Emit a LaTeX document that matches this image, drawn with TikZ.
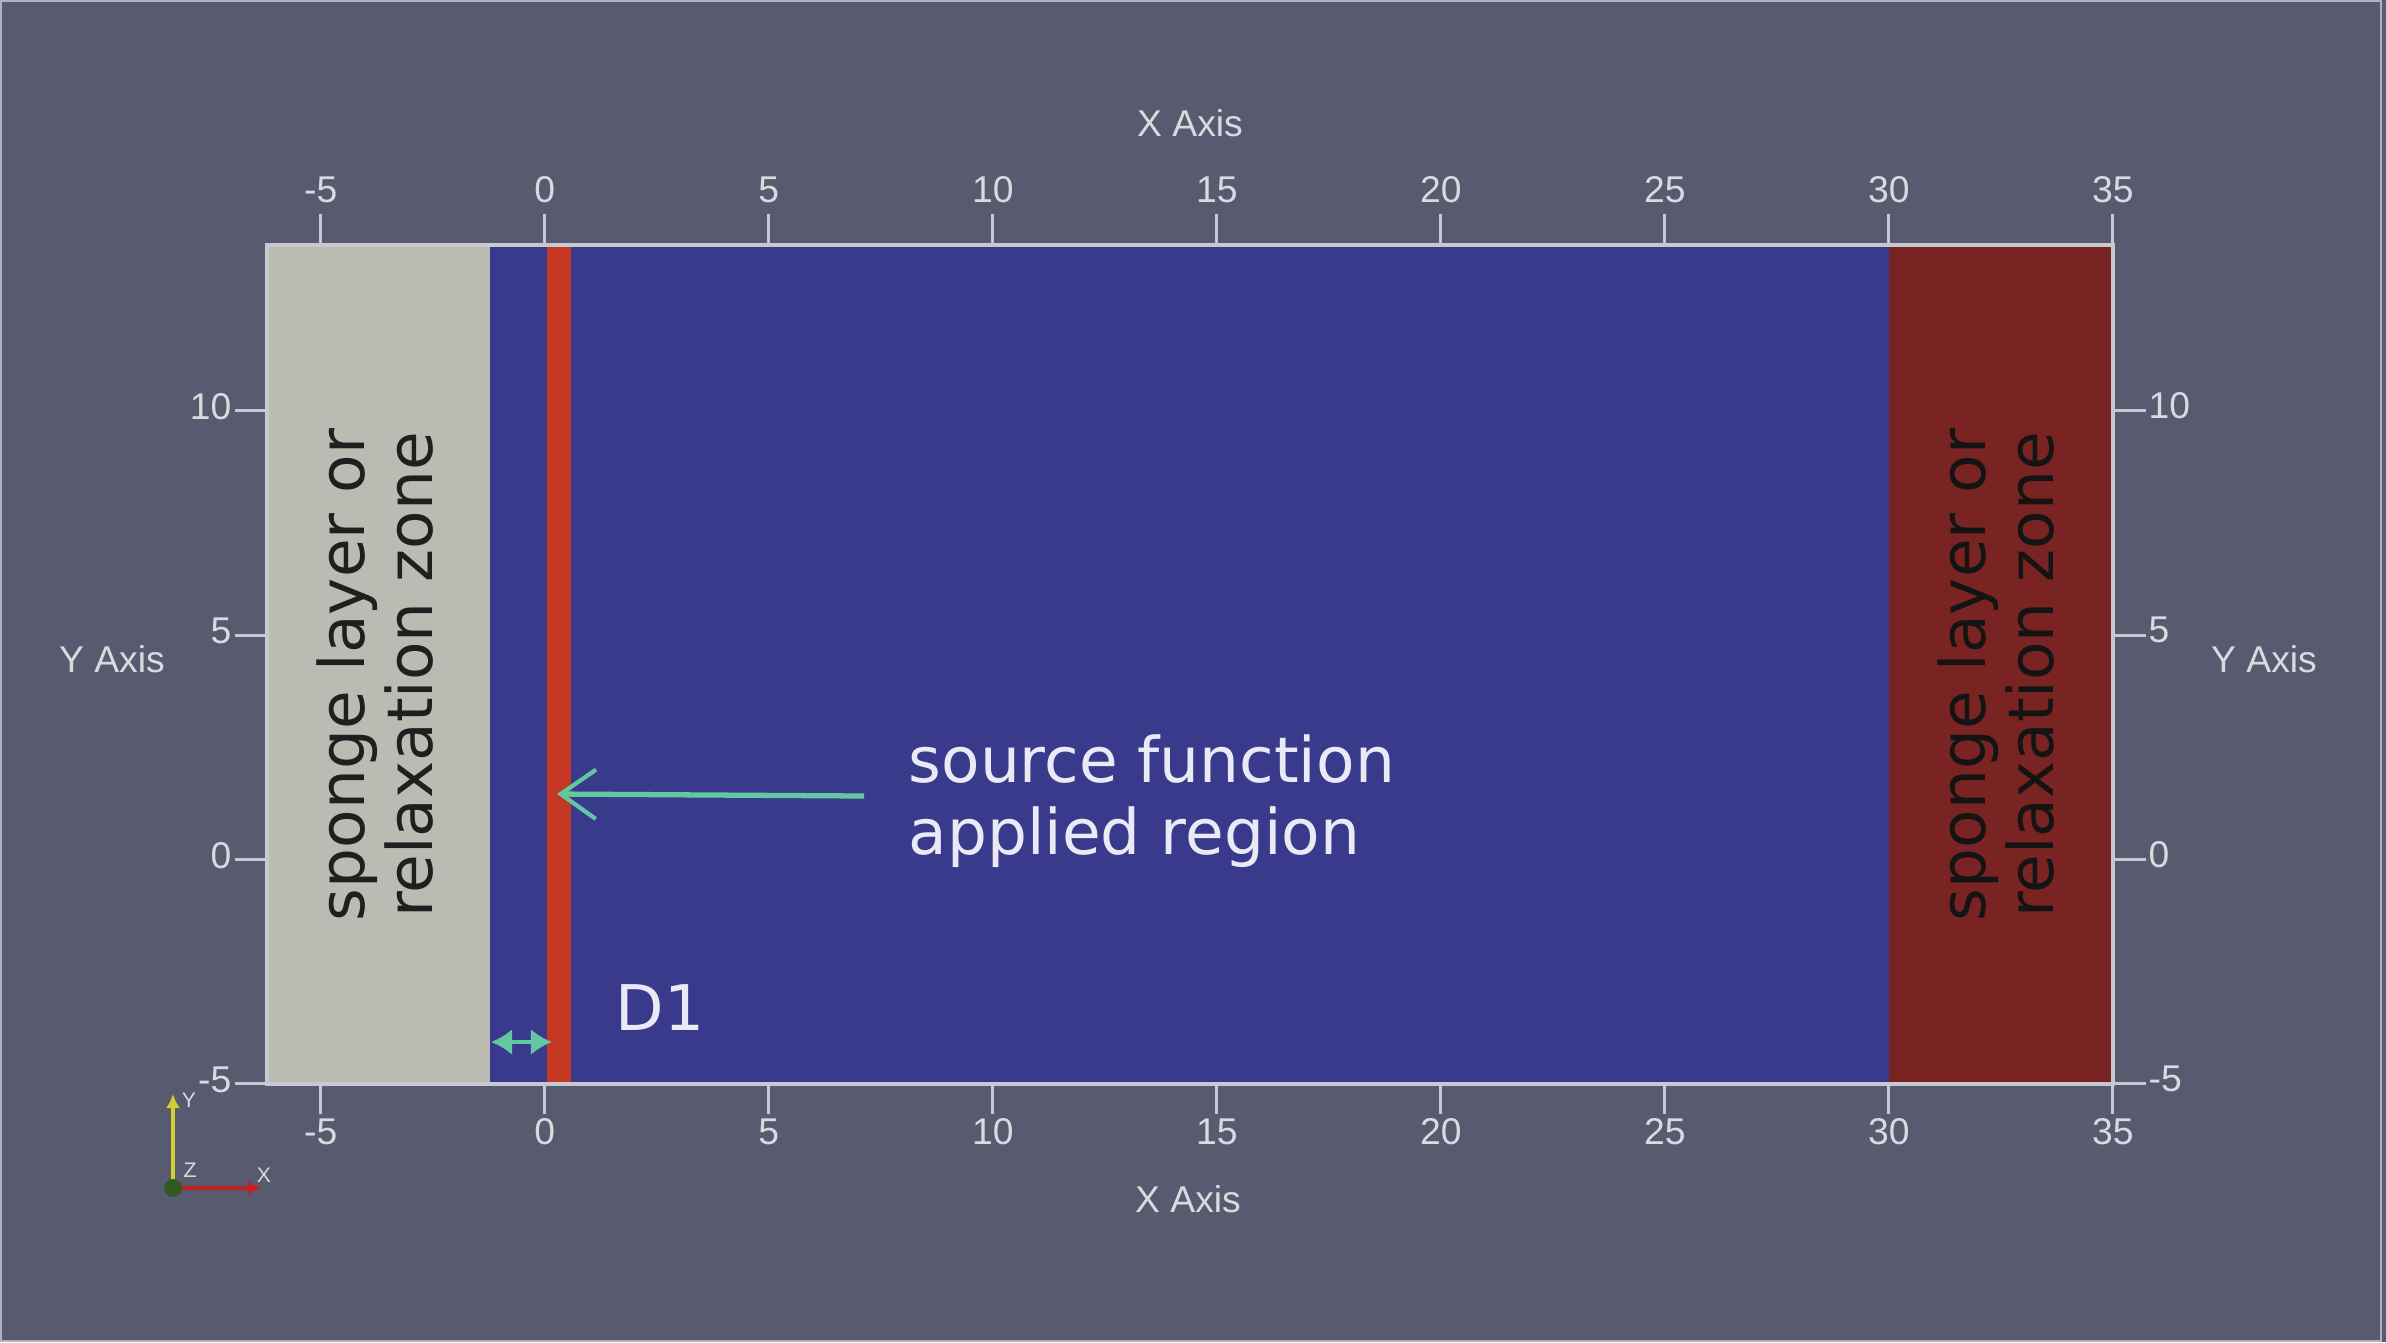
\documentclass[tikz,border=0pt]{standalone}
\usepackage{fontspec}
\setmainfont{DejaVu Sans}
\newfontfamily\axfont{Liberation Sans}
\usetikzlibrary{arrows.meta}
\definecolor{bg}{HTML}{585A70}
\definecolor{domblue}{HTML}{3A3A8C}
\definecolor{zonegray}{HTML}{BCBBB3}
\definecolor{zonered}{HTML}{7A2323}
\definecolor{stripred}{HTML}{C33723}
\definecolor{axline}{HTML}{C8C8D0}
\definecolor{axtext}{HTML}{DADADE}
\definecolor{arrowgreen}{HTML}{62C8A2}
\definecolor{notetext}{HTML}{EAEAF6}
\definecolor{triy}{HTML}{CFCF30}
\definecolor{trix}{HTML}{C42020}
\definecolor{triz}{HTML}{2F5A22}
\begin{document}
\begin{tikzpicture}[x=0.01cm,y=-0.01cm,
  axlab/.style={font=\axfont\fontsize{10.6pt}{12pt}\selectfont, text=axtext, inner sep=0pt},
  axtick/.style={draw=axline, line width=0.9pt},
  note/.style={font=\fontsize{17.9pt}{19.1pt}\selectfont, inner sep=0pt},
  trilab/.style={font=\axfont\fontsize{6pt}{7pt}\selectfont, text=axtext, inner sep=0pt}
]
\useasboundingbox (0,0) rectangle (2386,1342);
\fill[bg] (0,0) rectangle (2386,1342);
\draw[axline!80!bg, line width=0.6pt] (1,1) rectangle (2381,1341);

% domain
\fill[domblue] (267,245) rectangle (2113,1084);
\fill[zonegray] (267,245) rectangle (490,1084);
\fill[zonered] (1889,245) rectangle (2113,1084);
\fill[stripred] (547,245) rectangle (571,1084);
\draw[axline, line width=1.1pt] (267,245) rectangle (2113,1084);

% x ticks
\foreach \v [count=\i] in {-5,0,...,35} {
  \pgfmathsetmacro\px{544.8+44.8*\v}
  \draw[axtick] (\px,245) -- (\px,214);
  \node[axlab] (xtop\i) at (\px,190) {\v};
  \draw[axtick] (\px,1084) -- (\px,1114);
  \node[axlab] (xbot\i) at (\px,1132) {\v};
}
% y ticks
\foreach \v [count=\i] in {-5,0,5,10} {
  \pgfmathsetmacro\py{859.3-44.84*\v}
  \draw[axtick] (267,\py) -- (235,\py);
  \node[axlab, anchor=east] (yl\i) at (232,{\py-4}) {\v};
  \draw[axtick] (2113,\py) -- (2146,\py);
  \node[axlab, anchor=west] (yr\i) at (2148,{\py-5}) {\v};
}

% axis titles
\node[axlab] (xtitleT) at (1190,123) {X Axis};
\node[axlab] (xtitleB) at (1188,1199) {X Axis};
\node[axlab] (ytitleL) at (112,659) {Y Axis};
\node[axlab] (ytitleR) at (2264,659) {Y Axis};

% zone labels
\node[note, text=black!88, rotate=90, align=center] (spL) at (375,675) {sponge layer or\\relaxation zone};
\node[note, text=black!92, rotate=90, align=center] (spR) at (1996,675) {sponge layer or\\relaxation zone};

% source label and arrow
\node[note, text=notetext, anchor=base west] (src1) at (908,782) {source function};
\node[note, text=notetext, anchor=base west] (src2) at (908,854) {applied region};
\coordinate (arrTail) at (864,796);
\coordinate (arrTip) at (557,794);
\draw[arrowgreen, line width=1.5pt, -{Straight Barb[length=10pt,width=14pt,line width=1.2pt]}] (arrTail) -- (arrTip);

% D1
\coordinate (d1L) at (491,1042);
\coordinate (d1R) at (552,1042);
\draw[arrowgreen, line width=1.2pt, {Latex[length=6pt,width=7.5pt]}-{Latex[length=6pt,width=7.5pt]}] (d1L) -- (d1R);
\node[note, text=notetext, anchor=base west] (d1) at (615,1030) {D1};

% orientation triad
\coordinate (triO) at (173,1188);
\coordinate (triY) at (173,1094);
\coordinate (triX) at (262,1188);
\draw[triy, line width=1.4pt, -{Latex[length=4pt,width=4pt]}] (triO) -- (triY);
\draw[trix, line width=1.2pt, -{Latex[length=4pt,width=4pt]}] (triO) -- (triX);
\fill[triz] (triO) circle (9);
\node[trilab] (triYl) at (189,1100) {Y};
\node[trilab] (triXl) at (264,1175) {X};
\node[trilab] (triZl) at (190,1170) {Z};
\end{tikzpicture}
\end{document}
